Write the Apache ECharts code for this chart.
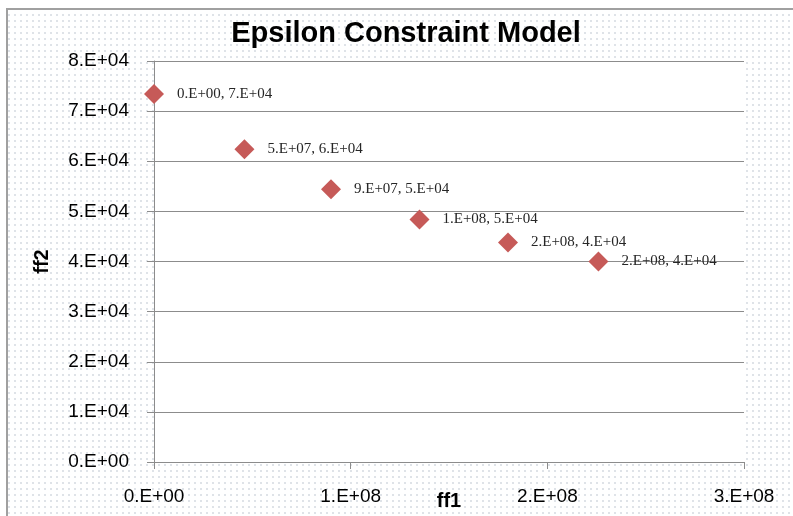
<!DOCTYPE html>
<html>
<head>
<meta charset="utf-8">
<script src="https://cdn.jsdelivr.net/npm/echarts@6/dist/echarts.min.js"></script>
<style>
  html, body { margin: 0; padding: 0; background: #fff; }
  #chart { width: 793px; height: 516px; }
</style>
</head>
<body>
<div id="chart"></div>
<script>
// values
const ff1 = [0, 4.6e7, 9.0e7, 1.35e8, 1.80e8, 2.26e8]
const ff2 = [73400, 62400, 54400, 48400, 43800, 40000]
const xTicks = [0, 1e8, 2e8, 3e8]
const yTicks = [0, 1e4, 2e4, 3e4, 4e4, 5e4, 6e4, 7e4, 8e4]

// excel style "0.E+00"
const sci = v => {
    const parts = Number(v).toExponential(0).split('e')
    const exp = parseInt(parts[1], 10)
    const sign = exp < 0 ? '-' : '+'
    return parts[0] + '.E' + sign + String(Math.abs(exp)).padStart(2, '0')
}

// dotted background like the original sheet
const tile = document.createElement('canvas')
tile.width = 6
tile.height = 6
const tctx = tile.getContext('2d')
tctx.fillStyle = '#ffffff'
tctx.fillRect(0, 0, 6, 6)
tctx.fillStyle = '#dfe3e8'
tctx.fillRect(2, 2, 2, 2)

const myChart = echarts.init(document.getElementById('chart'))

const points = ff1.map((x, i) => [x, ff2[i]])

const gray = '#8c8c8c'

const option = {
    backgroundColor: '#ffffff',
    animation: false,
    graphic: [{
        type: 'rect',
        z: -10,
        silent: true,
        shape: { x: 7, y: 9, width: 800, height: 520 },
        style: {
            fill: { image: tile, repeat: 'repeat' },
            stroke: '#a0a0a0',
            lineWidth: 2
        }
    }],
    title: {
        text: 'Epsilon Constraint Model',
        left: 406,
        top: 19,
        padding: 0,
        textAlign: 'center',
        textStyle: {
            fontFamily: 'Liberation Sans',
            fontWeight: 'bold',
            fontSize: 29,
            color: '#000'
        }
    },
    grid: {
        left: 154,
        right: 49,
        top: 61,
        bottom: 54,
        containLabel: false,
        outerBoundsMode: 'none',
        show: true,
        backgroundColor: '#ffffff',
        borderWidth: 0
    },
    xAxis: {
        type: 'value',
        min: xTicks[0],
        max: xTicks[xTicks.length - 1],
        interval: xTicks[1] - xTicks[0],
        name: 'ff1',
        nameLocation: 'middle',
        nameGap: 29,
        nameMoveOverlap: false,
        nameTextStyle: {
            fontFamily: 'Liberation Sans',
            fontWeight: 'bold',
            fontSize: 20,
            color: '#000'
        },
        axisLine: { show: true, lineStyle: { color: gray, width: 1 } },
        axisTick: { show: true, length: 7, lineStyle: { color: gray } },
        splitLine: { show: false },
        axisLabel: {
            margin: 25,
            fontFamily: 'Liberation Sans',
            fontSize: 19,
            color: '#000',
            formatter: sci
        }
    },
    yAxis: {
        type: 'value',
        min: yTicks[0],
        max: yTicks[yTicks.length - 1],
        interval: yTicks[1] - yTicks[0],
        name: 'ff2',
        nameLocation: 'middle',
        nameGap: 102,
        nameRotate: 90,
        nameMoveOverlap: false,
        nameTextStyle: {
            fontFamily: 'Liberation Sans',
            fontWeight: 'bold',
            fontSize: 20,
            color: '#000'
        },
        axisLine: { show: true, lineStyle: { color: gray, width: 1 } },
        axisTick: { show: true, length: 7, lineStyle: { color: gray } },
        splitLine: { show: true, lineStyle: { color: gray, width: 1 } },
        axisLabel: {
            margin: 25,
            fontFamily: 'Liberation Sans',
            fontSize: 19,
            color: '#000',
            formatter: sci
        }
    },
    series: [{
        type: 'scatter',
        symbol: 'diamond',
        symbolSize: 20,
        data: points,
        itemStyle: { color: '#c65a58', opacity: 1 },
        label: {
            show: true,
            position: 'right',
            distance: 13,
            fontFamily: 'Liberation Serif',
            fontSize: 15,
            color: '#262626',
            formatter: p => sci(p.value[0]) + ', ' + sci(p.value[1])
        }
    }]
}

myChart.setOption(option)
</script>
</body>
</html>
